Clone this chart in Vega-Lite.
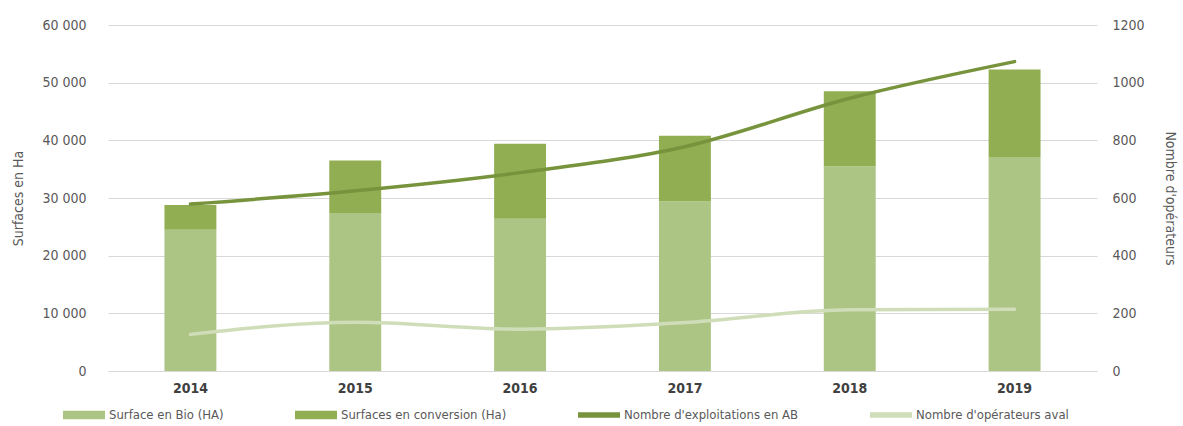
{
  "$schema": "https://vega.github.io/schema/vega-lite/v6.json",
  "width": 989,
  "height": 346,
  "autosize": {"type": "none"},
  "padding": {"left": 108, "top": 25, "right": 86, "bottom": 55},
  "config": {
    "locale": {"number": {"decimal": ",", "thousands": " ", "grouping": [3], "currency": ["", " €"]}},
    "view": {"stroke": null},
    "font": "'DejaVu Sans Condensed', Roboto, sans-serif",
    "axis": {"labelFont": "'DejaVu Sans Condensed', Roboto, sans-serif", "titleFont": "'DejaVu Sans Condensed', Roboto, sans-serif", "labelColor": "#595959", "titleColor": "#595959", "labelFontSize": 14, "titleFontSize": 14, "titleFontWeight": "normal", "gridColor": "#d9d9d9", "domain": false, "ticks": false}
  },
  "datasets": {
    "bars": [
      {"year": "2014", "series": "Surface en Bio (HA)", "value": 24500},
      {"year": "2015", "series": "Surface en Bio (HA)", "value": 27400},
      {"year": "2016", "series": "Surface en Bio (HA)", "value": 26400},
      {"year": "2017", "series": "Surface en Bio (HA)", "value": 29400},
      {"year": "2018", "series": "Surface en Bio (HA)", "value": 35500},
      {"year": "2019", "series": "Surface en Bio (HA)", "value": 37100},
      {"year": "2014", "series": "Surfaces en conversion (Ha)", "value": 4300},
      {"year": "2015", "series": "Surfaces en conversion (Ha)", "value": 9100},
      {"year": "2016", "series": "Surfaces en conversion (Ha)", "value": 13000},
      {"year": "2017", "series": "Surfaces en conversion (Ha)", "value": 11400},
      {"year": "2018", "series": "Surfaces en conversion (Ha)", "value": 13000},
      {"year": "2019", "series": "Surfaces en conversion (Ha)", "value": 15200}
    ],
    "lines": [
      {"year": "2014", "series": "Nombre d'exploitations en AB", "value": 579},
      {"year": "2015", "series": "Nombre d'exploitations en AB", "value": 625},
      {"year": "2016", "series": "Nombre d'exploitations en AB", "value": 688},
      {"year": "2017", "series": "Nombre d'exploitations en AB", "value": 778},
      {"year": "2018", "series": "Nombre d'exploitations en AB", "value": 946},
      {"year": "2019", "series": "Nombre d'exploitations en AB", "value": 1073},
      {"year": "2014", "series": "Nombre d'opérateurs aval", "value": 127},
      {"year": "2015", "series": "Nombre d'opérateurs aval", "value": 169},
      {"year": "2016", "series": "Nombre d'opérateurs aval", "value": 145},
      {"year": "2017", "series": "Nombre d'opérateurs aval", "value": 168},
      {"year": "2018", "series": "Nombre d'opérateurs aval", "value": 212},
      {"year": "2019", "series": "Nombre d'opérateurs aval", "value": 214}
    ]
  },
  "encoding": {
    "x": {"field": "year", "type": "nominal", "scale": {"paddingInner": 0.685, "paddingOuter": 0.3425},
      "axis": {"title": null, "labelAngle": 0, "labelFontWeight": "bold", "labelColor": "#404040", "labelPadding": 10, "grid": false, "domain": true, "domainColor": "#d9d9d9"}}
  },
  "layer": [
    {
      "data": {"name": "bars"},
      "mark": {"type": "bar"},
      "encoding": {
        "y": {"field": "value", "type": "quantitative", "aggregate": "sum", "stack": "zero",
          "scale": {"domain": [0, 60000]},
          "axis": {"title": "Surfaces en Ha", "format": ",d", "values": [0, 10000, 20000, 30000, 40000, 50000, 60000], "labelOverlap": false, "labelPadding": 22, "titlePadding": 16}},
        "color": {"field": "series", "type": "nominal",
          "scale": {"domain": ["Surface en Bio (HA)", "Surfaces en conversion (Ha)", "Nombre d'exploitations en AB", "Nombre d'opérateurs aval"], "range": ["#adc584", "#91ae53", "#77933c", "#d0ddb9"]},
          "legend": {"orient": "none", "legendX": -45, "legendY": 369, "direction": "horizontal", "title": null, "columnPadding": 71, "labelFont": "'DejaVu Sans Condensed', Roboto, sans-serif", "labelFontSize": 13, "labelColor": "#595959", "labelLimit": 400, "symbolSize": 1764, "symbolType": "M-1,-0.2H1V0.2H-1Z", "symbolStrokeWidth": 0, "labelOffset": 4,
            "encode": {"symbols": {"update": {"fill": {"scale": "color", "field": "value"}, "opacity": {"value": 1}, "shape": {"signal": "indexof(datum.value, 'Nombre') == 0 ? 'M-1,-0.13H1V0.13H-1Z' : 'M-1,-0.2H1V0.2H-1Z'"}}}}}},
        "order": {"field": "series", "sort": "ascending"}
      }
    },
    {
      "data": {"name": "lines"},
      "mark": {"type": "line", "strokeWidth": 3.5, "interpolate": "monotone", "strokeCap": "round"},
      "encoding": {
        "y": {"field": "value", "type": "quantitative", "scale": {"domain": [0, 1200]},
          "axis": {"orient": "right", "title": "Nombre d'opérateurs", "grid": false, "format": "d", "values": [0, 200, 400, 600, 800, 1000, 1200], "labelPadding": 15, "titlePadding": 18}},
        "color": {"field": "series", "type": "nominal"}
      }
    }
  ],
  "resolve": {"scale": {"y": "independent"}}
}
